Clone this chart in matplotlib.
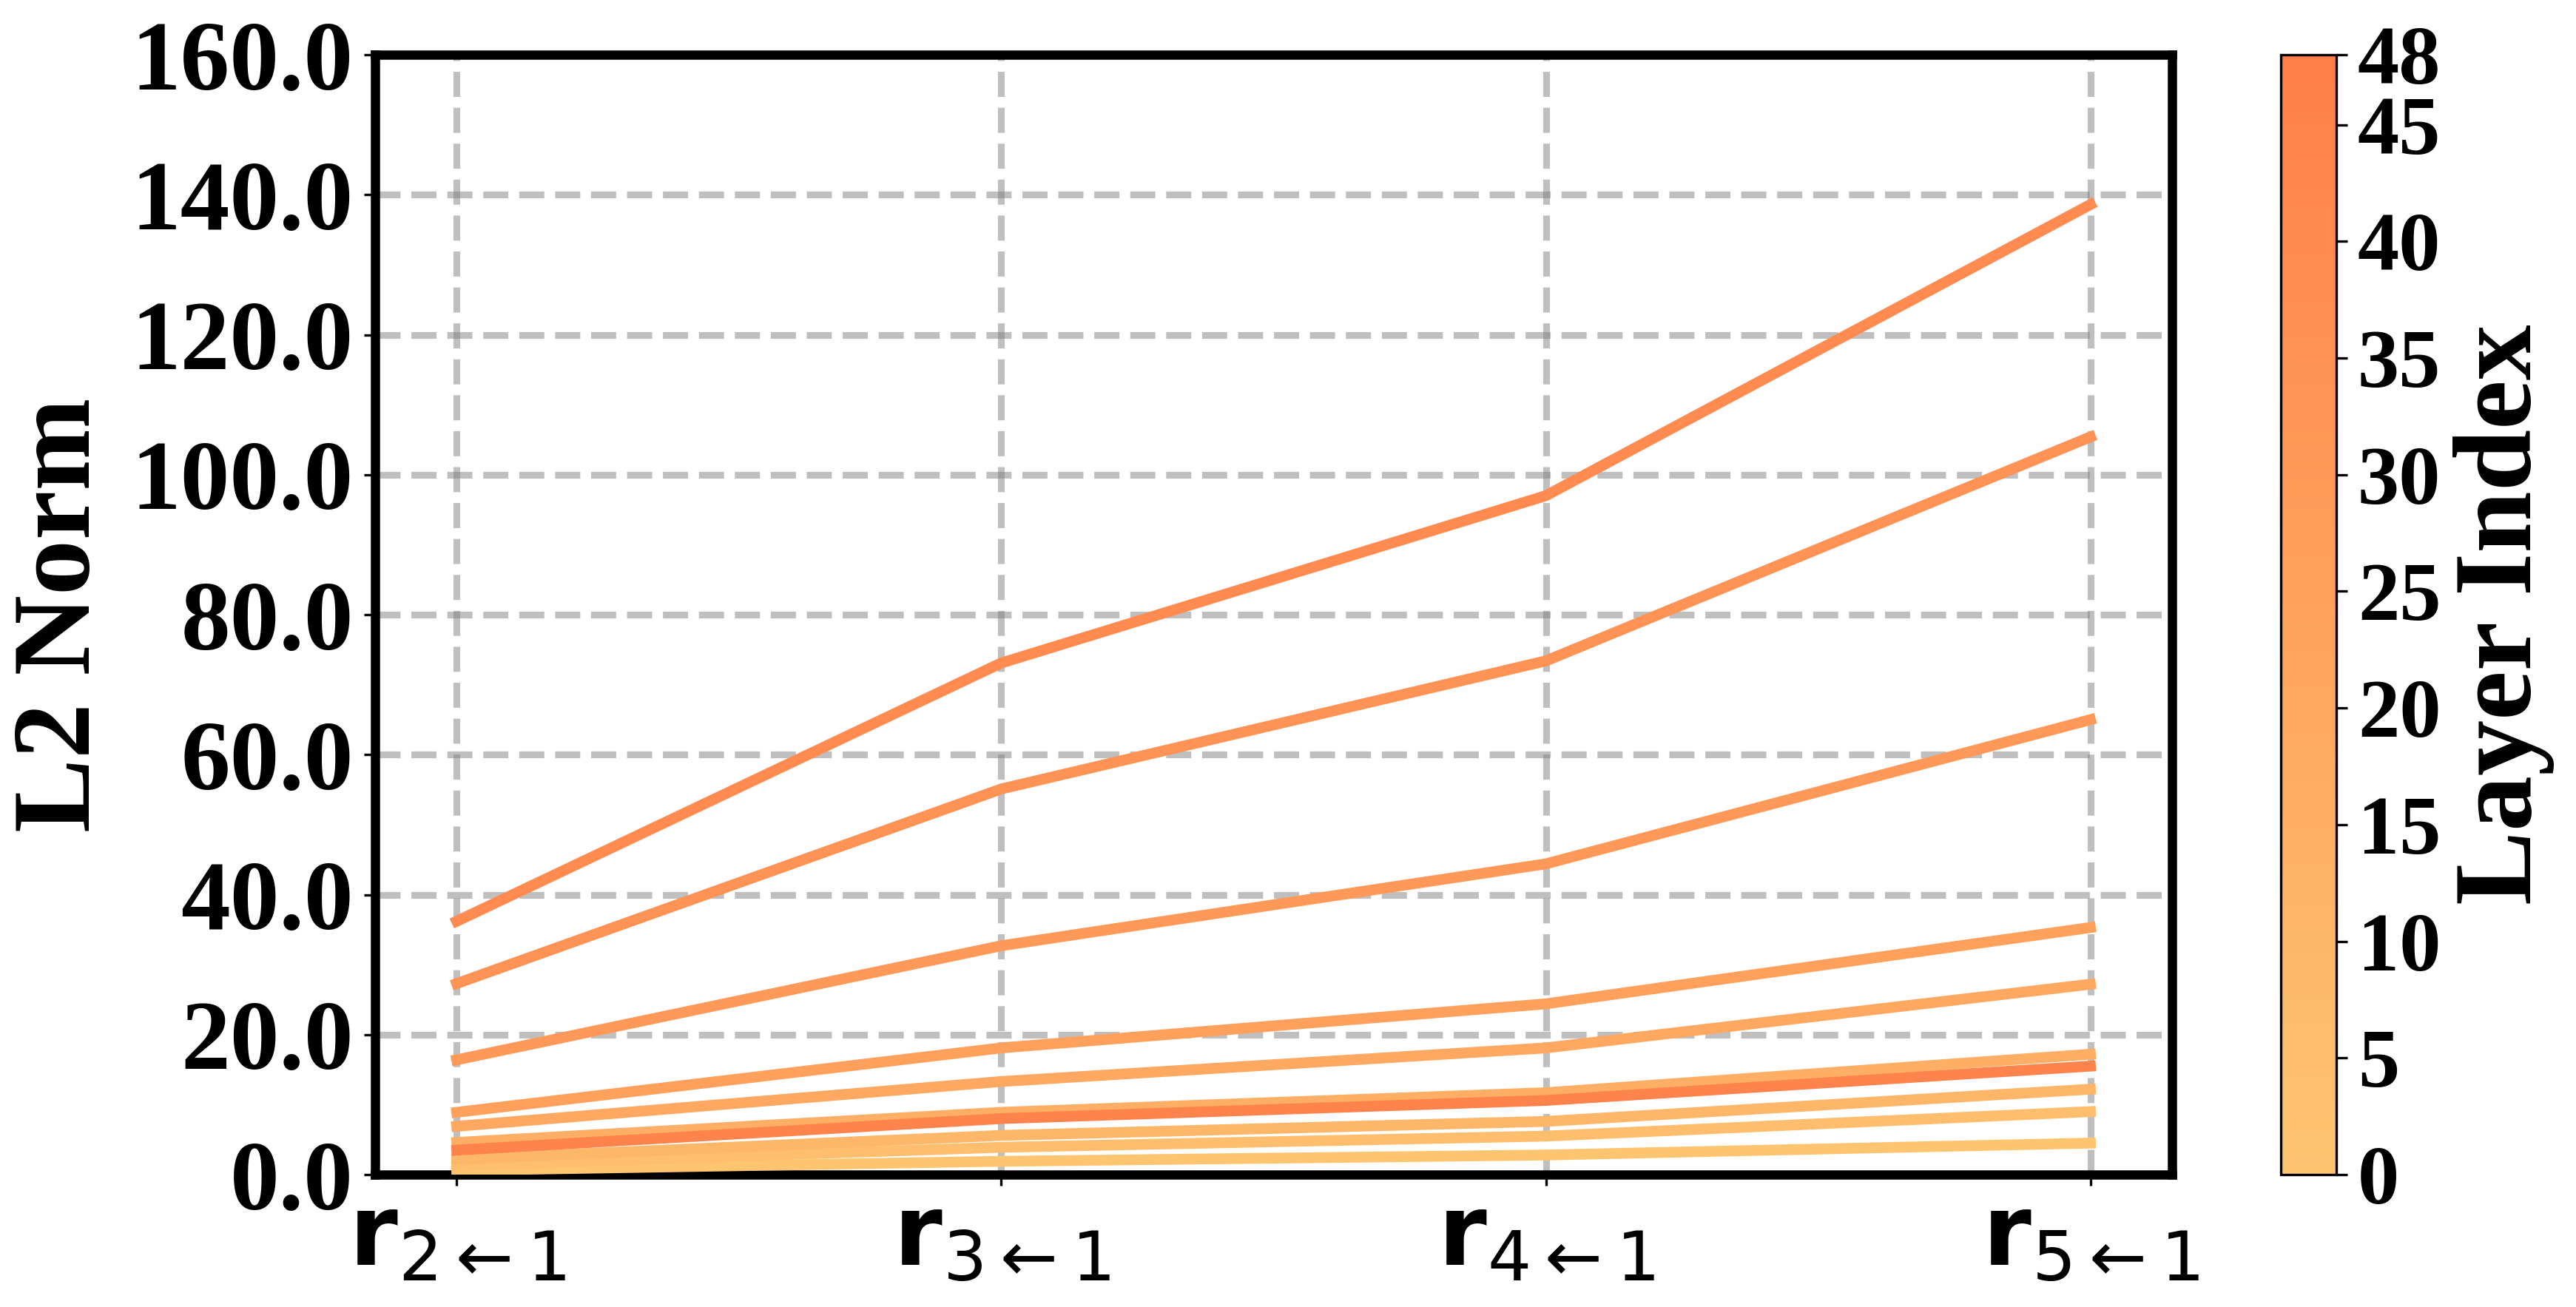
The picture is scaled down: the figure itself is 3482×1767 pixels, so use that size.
import numpy as np
import matplotlib
matplotlib.use('Agg')
import matplotlib.pyplot as plt
from matplotlib.colors import LinearSegmentedColormap, Normalize
from matplotlib.cm import ScalarMappable
from matplotlib.ticker import FormatStrFormatter

# x positions: relative vectors r_{k<-1}
x_labels = [r'$\mathbf{r}_{2\leftarrow 1}$', r'$\mathbf{r}_{3\leftarrow 1}$',
            r'$\mathbf{r}_{4\leftarrow 1}$', r'$\mathbf{r}_{5\leftarrow 1}$']

# layers shown and their L2 norms
layers = [0, 5, 10, 15, 20, 25, 30, 35, 40, 45]
norms = [
    [0.6, 1.9, 2.8, 4.5],       # layer 0
    [1.3, 3.9, 5.5, 9.0],       # layer 5
    [2.2, 5.6, 7.6, 12.2],      # layer 10
    [4.6, 8.9, 11.7, 17.2],     # layer 15
    [6.9, 13.3, 18.1, 27.2],    # layer 20
    [8.9, 18.1, 24.4, 35.3],    # layer 25
    [16.4, 32.7, 44.4, 65.0],   # layer 30
    [27.3, 55.1, 73.4, 105.4],  # layer 35
    [36.2, 73.1, 97.0, 138.6],  # layer 40
    [3.5, 8.0, 10.6, 15.5],     # layer 45
]
n_layers = 48
cbar_ticks = [0, 5, 10, 15, 20, 25, 30, 35, 40, 45, 48]

plt.rcParams['font.family'] = ['Liberation Serif', 'DejaVu Sans']
plt.rcParams['mathtext.fontset'] = 'dejavusans'

cmap = LinearSegmentedColormap.from_list('orng', ['#FEC571', '#FF7F4A'])
norm = Normalize(vmin=0, vmax=n_layers)

fig = plt.figure(figsize=(3482 / 300, 1767 / 300), dpi=300)
ax = fig.add_axes([0.1456, 0.1013, 0.6976, 0.8568])
cax = fig.add_axes([0.8854, 0.1013, 0.0215, 0.8568])

xs = np.arange(len(x_labels))
for layer, vals in zip(layers, norms):
    ax.plot(xs, vals, color=cmap(norm(layer)), linewidth=3.5, zorder=3)

ax.set_ylim(0, 160)
ax.set_yticks(np.arange(0, 161, 20))
ax.yaxis.set_major_formatter(FormatStrFormatter('%.1f'))
ax.set_xticks(xs)
ax.set_xticklabels(x_labels)
ax.tick_params(axis='y', labelsize=32)
ax.tick_params(axis='x', labelsize=32)
for lab in ax.get_yticklabels():
    lab.set_fontweight('bold')
ax.set_ylabel('L2 Norm', fontsize=36, fontweight='bold', labelpad=6)
ax.grid(True, linestyle='--', linewidth=2.2, color='gray', alpha=0.5, zorder=0)
ax.set_axisbelow(True)
for sp in ax.spines.values():
    sp.set_linewidth(3)

sm = ScalarMappable(norm=norm, cmap=cmap)
sm.set_array([])
cb = fig.colorbar(sm, cax=cax, ticks=cbar_ticks)
cb.ax.tick_params(labelsize=27)
for lab in cb.ax.get_yticklabels():
    lab.set_fontweight('bold')
cb.set_label('Layer Index', fontsize=36, fontweight='bold')

fig.savefig('out.png', dpi=300)
